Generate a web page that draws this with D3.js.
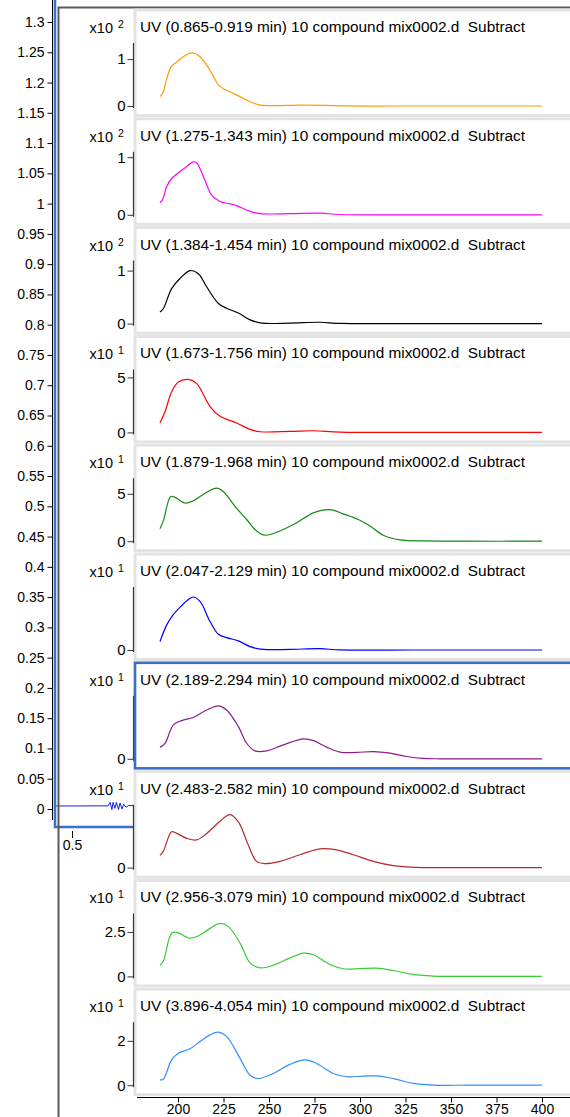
<!DOCTYPE html>
<html><head><meta charset="utf-8">
<script src="https://cdn.jsdelivr.net/npm/d3@7"></script>
<style>
body{margin:0;background:#fff;}
svg{display:block;}
text{font-family:"Liberation Sans",Arial,sans-serif;fill:#000;}
</style>
</head><body>
<svg id="c" width="570" height="1117"></svg>
<script>
// ---------- background chromatogram ----------
const chromYTicks = [0,0.05,0.1,0.15,0.2,0.25,0.3,0.35,0.4,0.45,0.5,0.55,0.6,0.65,0.7,0.75,0.8,0.85,0.9,0.95,1,1.05,1.1,1.15,1.2,1.25,1.3];
const chromXTicks = [0.5];
const chromTimes  = [0.447,0.5,0.6,0.62,0.627,0.633,0.637,0.643,0.648,0.655,0.66,0.667,0.672,0.68,0.69,0.71];
const chromValues = [0.005,0.005,0.0052,0.005,0.011,-0.001,0.011,0.001,0.011,-0.001,0.010,0.000,0.008,0.003,0.006,0.005];

// ---------- UV spectra panels ----------
const titles = [
 "UV (0.865-0.919 min) 10 compound mix0002.d  Subtract",
 "UV (1.275-1.343 min) 10 compound mix0002.d  Subtract",
 "UV (1.384-1.454 min) 10 compound mix0002.d  Subtract",
 "UV (1.673-1.756 min) 10 compound mix0002.d  Subtract",
 "UV (1.879-1.968 min) 10 compound mix0002.d  Subtract",
 "UV (2.047-2.129 min) 10 compound mix0002.d  Subtract",
 "UV (2.189-2.294 min) 10 compound mix0002.d  Subtract",
 "UV (2.483-2.582 min) 10 compound mix0002.d  Subtract",
 "UV (2.956-3.079 min) 10 compound mix0002.d  Subtract",
 "UV (3.896-4.054 min) 10 compound mix0002.d  Subtract"];
const exponents = [2,2,2,1,1,1,1,1,1,1];
const colors = ["#ff9a00","#ff00ff","#000000","#ff0000","#138a13","#0000ff","#8b1a8b","#b52a2a","#36cc36","#2f8fff"];
const yTickValues = [[0,1],[0,1],[0,1],[0,5],[0,5],[0],[0],[0],[0,2.5],[0,2]];
const wavelengthTicks = [200,225,250,275,300,325,350,375,400];
const selectedPanel = 6;

const spec1 = [[190.1,0.20],[191.6,0.27],[193.8,0.59],[196.5,0.85],[199.3,0.94],[202.9,1.05],[206.6,1.13],[209.3,1.12],[212.1,1.05],[215.8,0.87],[218.5,0.70],[222.2,0.45],[225.8,0.35],[230.4,0.27],[234.1,0.20],[239.6,0.09],[245.1,0.02],[252.4,0.01],[267,0.02],[281.7,0.015],[292.7,0.002],[330,0],[400,0]];
const spec2 = [[190.1,0.21],[191.6,0.27],[193.8,0.49],[196.5,0.63],[201.1,0.75],[204.8,0.84],[208.4,0.92],[210.3,0.90],[212.1,0.80],[214.8,0.60],[218.5,0.34],[223.1,0.23],[228.6,0.19],[232.2,0.16],[239.6,0.06],[245.1,0.02],[261.5,0.02],[278,0.03],[289,0.005],[330,0],[400,0]];
const spec3 = [[190.1,0.22],[191.9,0.28],[196.5,0.66],[201.1,0.85],[206.6,1.0],[211.2,0.94],[215.8,0.69],[222.2,0.38],[226.7,0.29],[233.2,0.20],[239.6,0.07],[246,0.01],[261.5,0.01],[278,0.025],[289,0.003],[330,0],[400,0]];
const spec4 = [[190.1,0.86],[192.9,1.9],[196.5,3.7],[200.2,4.58],[205.7,4.82],[210.3,4.43],[217.6,2.35],[223.1,1.46],[232.2,0.86],[239.6,0.27],[245.1,0.06],[261.5,0.09],[274.4,0.15],[289,0.03],[330,0],[400,0]];
const spec5 = [[190.1,1.32],[191.9,2.12],[196,4.72],[198.4,4.62],[203.8,4.03],[208.4,4.27],[215.8,5.17],[221.2,5.59],[224.9,5.24],[231.3,3.68],[237.7,2.29],[243.2,1.08],[247.8,0.63],[256,1.08],[265.2,1.94],[274.4,2.99],[283.5,3.33],[290.8,2.88],[299.1,2.29],[305.5,1.6],[312.8,0.63],[322,0.14],[334.8,0.03],[360,0],[400,0]];
const spec6 = [[190.1,0.55],[193.8,1.66],[197.4,2.33],[202,2.93],[205.7,3.33],[208.4,3.5],[212.1,3.21],[217.6,1.88],[222.2,1.04],[226.7,0.82],[233.2,0.6],[239.6,0.22],[246.9,0.04],[261.5,0.04],[278,0.09],[289,0.005],[330,0],[400,0]];
const spec7 = [[190.1,0.66],[192.9,0.88],[197.4,1.91],[202,2.16],[208.4,2.34],[215.8,2.76],[222.2,3.0],[226.7,2.76],[233.2,1.82],[237.7,0.88],[242.3,0.45],[248.7,0.45],[257.9,0.79],[268.9,1.13],[274.4,1.03],[281.7,0.66],[289,0.38],[298.2,0.36],[307.3,0.41],[316.5,0.32],[325.6,0.13],[334.8,0.02],[344,0],[370,0],[400,0]];
const spec8 = [[190.1,0.92],[191.9,1.22],[196.5,2.71],[199.3,2.58],[204.8,2.21],[210.3,2.09],[215.8,2.58],[223.1,3.5],[228.6,4.0],[233.2,3.45],[238.6,1.71],[243.2,0.47],[247.8,0.3],[256,0.47],[267,0.97],[278,1.42],[287.2,1.34],[296.3,0.97],[307.3,0.47],[318.3,0.15],[331.1,0.01],[350,0],[400,0]];
const spec9 = [[190.1,0.63],[191.9,0.85],[196.5,2.43],[199.3,2.48],[206.6,2.15],[212.1,2.33],[217.6,2.7],[223.1,2.98],[227.7,2.8],[234.1,1.87],[239.6,0.76],[245.1,0.48],[252.4,0.63],[261.5,1.04],[268.9,1.31],[274.4,1.22],[283.5,0.67],[290.8,0.43],[300,0.44],[309.2,0.46],[318.3,0.33],[329.3,0.11],[340.3,0.02],[360,0],[400,0]];
const spec10 = [[190.1,0.24],[191.9,0.27],[196.5,1.14],[200.2,1.44],[206.6,1.64],[212.1,1.97],[217.6,2.27],[222.2,2.39],[226.7,2.2],[234.1,1.21],[239.6,0.45],[244.1,0.3],[252.4,0.53],[261.5,0.94],[269.8,1.14],[276.2,0.98],[285.3,0.53],[292.7,0.38],[301.8,0.41],[309.2,0.42],[318.3,0.3],[329.3,0.08],[340.3,0.005],[360,0],[400,0]];
const spectra = [spec1,spec2,spec3,spec4,spec5,spec6,spec7,spec8,spec9,spec10];

// ---------- drawing ----------
const svg = d3.select("#c");
const BLUE = "#3a6fc8";
const FONT = "'Liberation Sans',Arial,sans-serif";

// chromatogram
const cy = d3.scaleLinear().domain([0,1.3]).range([809,22]);
const cx = d3.scaleLinear().domain([0.5,1.0]).range([72,222]);
const gC = svg.append("g");
const yAx = gC.append("g").attr("transform","translate(52.5,0)")
  .call(d3.axisLeft(cy).tickValues(chromYTicks).tickSize(5).tickPadding(3).tickFormat(d=>String(+d.toFixed(2))));
yAx.select(".domain").remove();
yAx.selectAll("text").style("font-size","14px").style("font-family",FONT);
gC.append("line").attr("x1",52.5).attr("x2",52.5).attr("y1",0).attr("y2",820).attr("stroke","#000");
const xAx = gC.append("g").attr("transform","translate(0,831)")
  .call(d3.axisBottom(cx).tickValues(chromXTicks).tickSize(7).tickPadding(2).tickFormat(d=>String(d)));
xAx.select(".domain").remove();
xAx.selectAll("text").style("font-size","14px").style("font-family",FONT);
gC.append("path")
  .datum(d3.zip(chromTimes, chromValues))
  .attr("fill","none").attr("stroke","#1020e0").attr("stroke-width",1)
  .attr("d", d3.line().x(d=>cx(d[0])).y(d=>cy(d[1])));
gC.append("rect").attr("x",55).attr("y",-5).attr("width",700).attr("height",832)
  .attr("fill","none").attr("stroke",BLUE).attr("stroke-width",2.5);

// overlay window frame
svg.append("path").attr("d","M58.5,1117V7.5H570").attr("fill","none").attr("stroke","#5a5a5a").attr("stroke-width",2);

// panels
const xs = d3.scaleLinear().domain([200,400]).range([178,542]);
const pitch = 108.8, top0 = 10, cardH = 105.5;
spectra.forEach((data,i)=>{
  const t = top0 + pitch*i;
  const g = svg.append("g");
  g.append("rect").attr("x",135).attr("y",t).attr("width",460).attr("height",cardH)
    .attr("fill","#fff").attr("stroke","#e3e3e3").attr("stroke-width",3);
  const ymax = d3.max(data,d=>d[1]);
  const ys = d3.scaleLinear().domain([0,ymax]).range([t+96,t+43]);
  const ax = g.append("g").attr("transform","translate(133.5,0)")
    .call(d3.axisLeft(ys).tickValues(yTickValues[i]).tickSize(6).tickPadding(2).tickFormat(d=>String(d)));
  ax.select(".domain").remove();
  ax.selectAll("line").attr("stroke","#333");
  ax.selectAll("text").style("font-size","15px").style("font-family",FONT);
  g.append("line").attr("x1",133.5).attr("x2",133.5).attr("y1",t+33).attr("y2",t+98).attr("stroke","#333").attr("stroke-width",1.2);
  // multiplier
  g.append("text").attr("x",113).attr("y",t+23).attr("text-anchor","end").style("font-size","14.5px").text("x10");
  g.append("text").attr("x",118).attr("y",t+18).style("font-size","10.5px").text(String(exponents[i]));
  // title
  g.append("text").attr("class","title").attr("x",140).attr("y",t+22).style("white-space","pre").style("font-size","14.5px").text(titles[i]);
  // curve
  g.append("path").datum(data).attr("fill","none").attr("stroke",colors[i]).attr("stroke-width",1.2)
    .attr("d", d3.line().x(d=>xs(d[0])).y(d=>ys(d[1])).curve(d3.curveCatmullRom.alpha(0.5)));
  if(i===selectedPanel){
    g.append("rect").attr("x",135).attr("y",t).attr("width",460).attr("height",cardH)
      .attr("fill","none").attr("stroke",BLUE).attr("stroke-width",2.5);
  }
});
// fit title width
svg.selectAll("text.title").each(function(){
  const w = this.getComputedTextLength();
  if(w>0) d3.select(this).style("font-size",(14.5*385/w).toFixed(2)+"px");
});

// bottom wavelength axis
const bx = svg.append("g").attr("transform","translate(0,1097.5)")
  .call(d3.axisBottom(xs).tickValues(wavelengthTicks).tickSize(5).tickPadding(1.5).tickFormat(d=>String(d)));
bx.select(".domain").remove();
bx.selectAll("text").style("font-size","14px").style("font-family",FONT);
svg.append("line").attr("x1",137).attr("x2",570).attr("y1",1097.5).attr("y2",1097.5).attr("stroke","#000");
</script>
</body></html>
